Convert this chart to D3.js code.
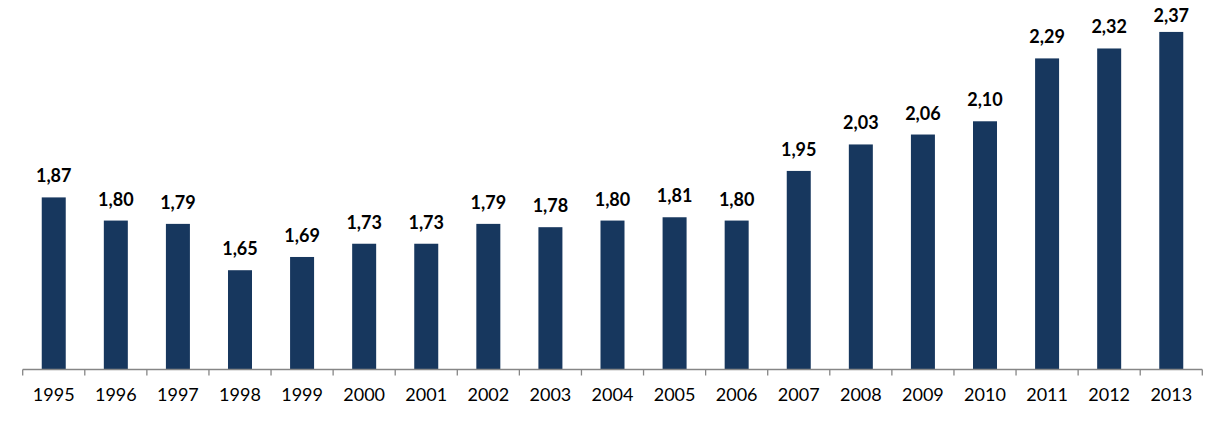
<!DOCTYPE html>
<html>
<head>
<meta charset="utf-8">
<script src="https://cdn.jsdelivr.net/npm/d3@7"></script>
<style>
  html, body { margin: 0; padding: 0; background: #fff; }
  svg { display: block; }
</style>
</head>
<body>
<svg id="chart" width="1225" height="422"></svg>
<script>
const years = ["1995","1996","1997","1998","1999","2000","2001","2002","2003","2004","2005","2006","2007","2008","2009","2010","2011","2012","2013"];
const values = [1.87,1.80,1.79,1.65,1.69,1.73,1.73,1.79,1.78,1.80,1.81,1.80,1.95,2.03,2.06,2.10,2.29,2.32,2.37];
const yDomain = [1.35, 2.40];

const svg = d3.select("#chart");
const x = d3.scaleBand().domain(years).range([22.7, 1202.3]).paddingInner(0).paddingOuter(0);
const y = d3.scaleLinear().domain(yDomain).range([369.5, 22]);
const barW = 24;

const data = years.map((yr, i) => ({ yr, v: values[i] }));

svg.append("g").selectAll("rect").data(data).join("rect")
  .attr("x", d => x(d.yr) + x.bandwidth() / 2 - barW / 2)
  .attr("y", d => y(d.v))
  .attr("width", barW)
  .attr("height", d => y(yDomain[0]) - y(d.v))
  .attr("fill", "#17375E");

const fmt = v => d3.format(".2f")(v).replace(".", ",");
svg.append("g").selectAll("text").data(data).join("text")
  .attr("x", d => x(d.yr) + x.bandwidth() / 2)
  .attr("y", d => Math.max(y(d.v) - 15, 22))
  .attr("text-anchor", "middle")
  .attr("font-family", "Lato, 'Open Sans', sans-serif")
  .attr("font-weight", "bold")
  .attr("font-size", "18px")
  .attr("fill", "#000")
  .text(d => fmt(d.v));

// axis
const axisY = 369.5;
const ax = svg.append("g");
ax.append("line")
  .attr("x1", x.range()[0]).attr("x2", x.range()[1])
  .attr("y1", axisY).attr("y2", axisY)
  .attr("stroke", "#868686").attr("stroke-width", 1.3);
const tickPos = years.map(yr => x(yr)).concat([x.range()[1]]);
ax.selectAll("line.tick").data(tickPos).join("line")
  .attr("class", "tick")
  .attr("x1", d => d).attr("x2", d => d)
  .attr("y1", axisY).attr("y2", axisY + 6)
  .attr("stroke", "#868686").attr("stroke-width", 1.3);
ax.selectAll("text").data(years).join("text")
  .attr("x", d => x(d) + x.bandwidth() / 2)
  .attr("y", 401)
  .attr("text-anchor", "middle")
  .attr("font-family", "Lato, 'Open Sans', sans-serif")
  .attr("font-size", "18px")
  .attr("fill", "#000")
  .text(d => d);
</script>
</body>
</html>
